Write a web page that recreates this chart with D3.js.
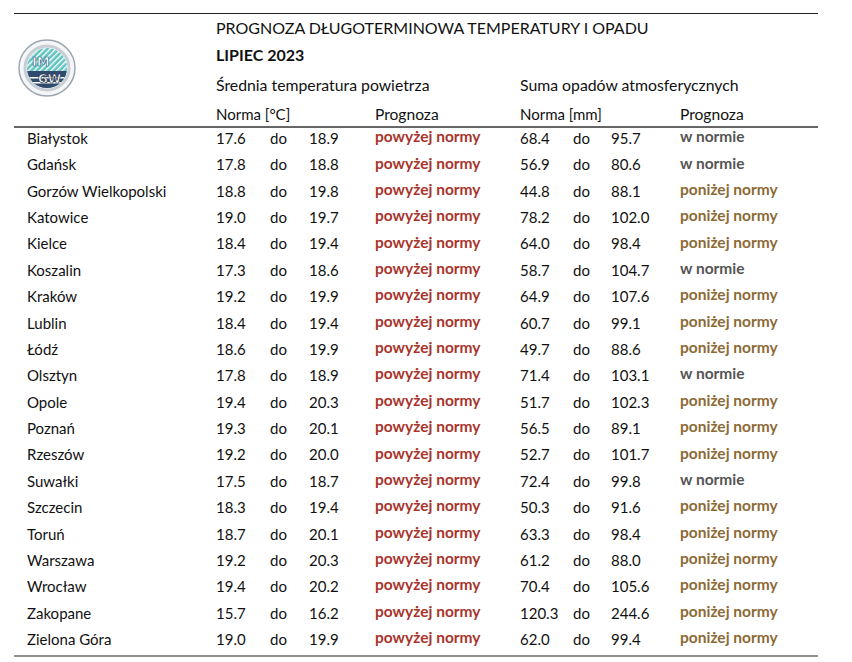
<!DOCTYPE html>
<html><head><meta charset="utf-8">
<script src="https://cdn.jsdelivr.net/npm/d3@7"></script>
<style>body{margin:0;background:#fff}svg{display:block}</style>
</head><body>
<script>
const cities = ["Białystok","Gdańsk","Gorzów Wielkopolski","Katowice","Kielce","Koszalin","Kraków","Lublin","Łódź","Olsztyn","Opole","Poznań","Rzeszów","Suwałki","Szczecin","Toruń","Warszawa","Wrocław","Zakopane","Zielona Góra"];
const tempLow = ["17.6","17.8","18.8","19.0","18.4","17.3","19.2","18.4","18.6","17.8","19.4","19.3","19.2","17.5","18.3","18.7","19.2","19.4","15.7","19.0"];
const tempHigh = ["18.9","18.8","19.8","19.7","19.4","18.6","19.9","19.4","19.9","18.9","20.3","20.1","20.0","18.7","19.4","20.1","20.3","20.2","16.2","19.9"];
const tempForecast = Array(20).fill("powyżej normy");
const precipLow = ["68.4","56.9","44.8","78.2","64.0","58.7","64.9","60.7","49.7","71.4","51.7","56.5","52.7","72.4","50.3","63.3","61.2","70.4","120.3","62.0"];
const precipHigh = ["95.7","80.6","88.1","102.0","98.4","104.7","107.6","99.1","88.6","103.1","102.3","89.1","101.7","99.8","91.6","98.4","88.0","105.6","244.6","99.4"];
const precipForecast = ["w normie","w normie","poniżej normy","poniżej normy","poniżej normy","w normie","poniżej normy","poniżej normy","poniżej normy","w normie","poniżej normy","poniżej normy","poniżej normy","w normie","poniżej normy","poniżej normy","poniżej normy","poniżej normy","poniżej normy","poniżej normy"];
const title = "PROGNOZA DŁUGOTERMINOWA TEMPERATURY I OPADU";
const subtitle = "LIPIEC 2023";
const groupHeaders = ["Średnia temperatura powietrza","Suma opadów atmosferycznych"];
const colHeaders = ["Norma [°C]","Prognoza","Norma [mm]","Prognoza"];

const W = 852, H = 662;
const FONT = "Lato, 'Open Sans', sans-serif";
const forecastColor = d3.scaleOrdinal()
  .domain(["powyżej normy","poniżej normy","w normie"])
  .range(["#a9342c","#8c6a36","#555555"]);

const svg = d3.select("body").append("svg").attr("width", W).attr("height", H)
  .style("font-family", FONT);

const y = d3.scaleBand().domain(cities).range([127, 654.4]);
const x = d3.scaleOrdinal()
  .domain(["city","tLow","tDo","tHigh","tFc","pLow","pDo","pHigh","pFc"])
  .range([27, 216, 270, 309, 375, 520, 573, 611, 680]);

// rules
svg.append("line").attr("x1",14).attr("x2",818).attr("y1",13.5).attr("y2",13.5).attr("stroke","#222").attr("stroke-width",1.2);
svg.append("line").attr("x1",14).attr("x2",818).attr("y1",127).attr("y2",127).attr("stroke","#666").attr("stroke-width",2);
svg.append("line").attr("x1",14).attr("x2",818).attr("y1",656).attr("y2",656).attr("stroke","#222").attr("stroke-width",1.2);

// logo
const logo = svg.append("g").attr("transform","translate(47,68)");
const defs = svg.append("defs");
const pat = defs.append("pattern").attr("id","stripes").attr("patternUnits","userSpaceOnUse")
  .attr("width",4).attr("height",4).attr("patternTransform","rotate(45)");
pat.append("rect").attr("width",4).attr("height",4).attr("fill","#5fc4bf");
pat.append("rect").attr("width",1.4).attr("height",4).attr("fill","#ffffff");
defs.append("clipPath").attr("id","inner").append("circle").attr("r",20);
logo.append("circle").attr("r",28).attr("fill","#f4f6f8").attr("stroke","#9aa6b2").attr("stroke-width",1.5);
logo.append("circle").attr("r",22).attr("fill","none").attr("stroke","#c7ced6").attr("stroke-width",3);
const ig = logo.append("g").attr("clip-path","url(#inner)");
ig.append("rect").attr("x",-20).attr("y",-20).attr("width",40).attr("height",40).attr("fill","url(#stripes)");
ig.append("rect").attr("x",-20).attr("y",3).attr("width",40).attr("height",17).attr("fill","#2f4a6b");
ig.append("rect").attr("x",-20).attr("y",9).attr("width",40).attr("height",1.5).attr("fill","#ffffff");
ig.append("rect").attr("x",-20).attr("y",14).attr("width",40).attr("height",1.5).attr("fill","#ffffff");
logo.append("text").attr("x",-15).attr("y",-2).text("IM").attr("fill","#fff").attr("font-weight",900).attr("font-size",13).attr("font-family","'DejaVu Sans', sans-serif").attr("stroke","#2f6b8a").attr("stroke-width",0.7);
logo.append("text").attr("x",-9).attr("y",15).text("GW").attr("fill","#fff").attr("font-weight",900).attr("font-size",12).attr("font-family","'DejaVu Sans', sans-serif").attr("stroke","#1f3550").attr("stroke-width",0.7);

// headers
const hdr = svg.append("g").attr("fill","#111").attr("font-size",15).attr("dominant-baseline","middle");
hdr.append("text").attr("x",216).attr("y",30).attr("font-size",16).text(title);
hdr.append("text").attr("x",216).attr("y",57).attr("font-size",16).attr("font-weight",700).text(subtitle);
hdr.selectAll(".g").data(groupHeaders).join("text").attr("x",(d,i)=> i? x("pLow"):x("tLow")).attr("y",87).attr("font-size",15.8).text(d=>d);
hdr.selectAll(".c").data(colHeaders).join("text").attr("x",(d,i)=>x(["tLow","tFc","pLow","pFc"][i])).attr("y",116).attr("font-size",(d,i)=> i%2 ? 15.6 : 15).text(d=>d);

// rows
const rows = svg.append("g").selectAll("g").data(cities).join("g")
  .attr("transform", d => `translate(0,${y(d)+y.bandwidth()/2})`)
  .attr("font-size",15).attr("dominant-baseline","middle").attr("fill","#111");
rows.append("text").attr("x",x("city")).text(d=>d);
rows.append("text").attr("x",x("tLow")).text((d,i)=>tempLow[i]);
rows.append("text").attr("x",x("tDo")).text("do");
rows.append("text").attr("x",x("tHigh")).text((d,i)=>tempHigh[i]);
rows.append("text").attr("x",x("tFc")).attr("y",-2).attr("font-weight",700).attr("font-size",15.5)
  .attr("fill",(d,i)=>forecastColor(tempForecast[i])).text((d,i)=>tempForecast[i]);
rows.append("text").attr("x",x("pLow")).text((d,i)=>precipLow[i]);
rows.append("text").attr("x",x("pDo")).text("do");
rows.append("text").attr("x",x("pHigh")).text((d,i)=>precipHigh[i]);
rows.append("text").attr("x",x("pFc")).attr("y",-2).attr("font-weight",700).attr("font-size",15.5)
  .attr("fill",(d,i)=>forecastColor(precipForecast[i])).text((d,i)=>precipForecast[i]);
</script>
</body></html>
